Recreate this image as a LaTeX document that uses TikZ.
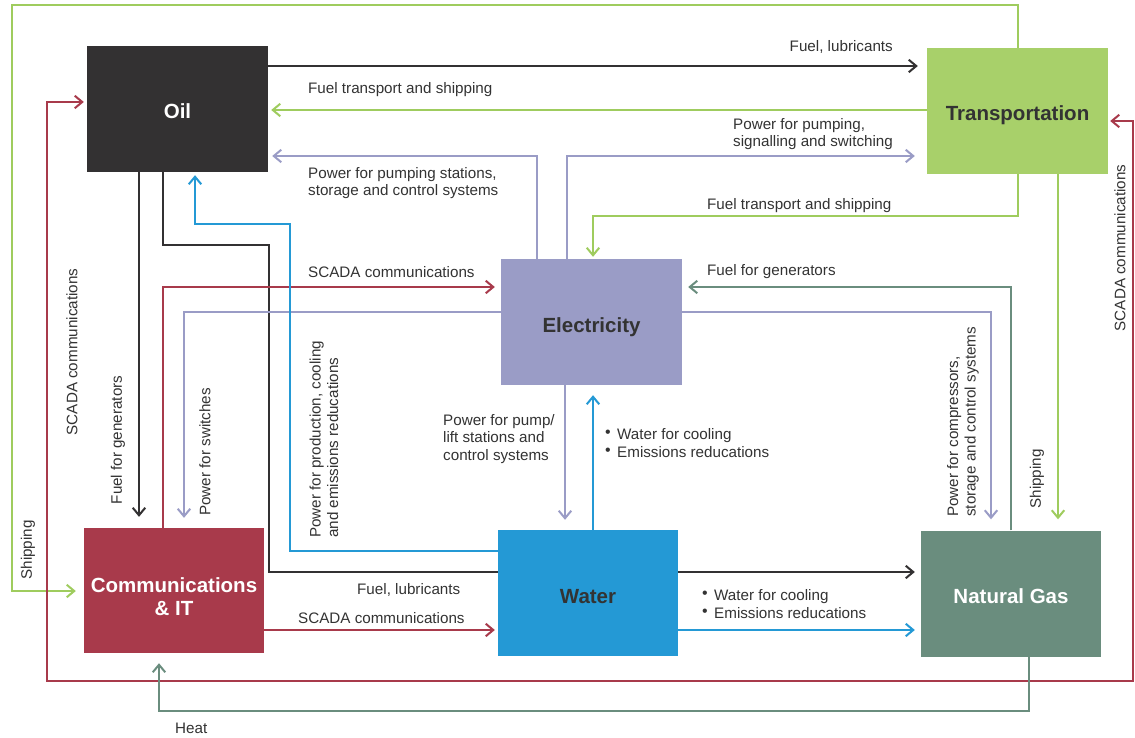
\documentclass[tikz,border=0pt]{standalone}
\usepackage{fontspec}
\usepackage{graphicx}
\setmainfont{Liberation Sans}
\usetikzlibrary{arrows.meta,backgrounds,calc}
\definecolor{cdark}{HTML}{333132}
\definecolor{cgreen}{HTML}{A8D06A}
\definecolor{lgreen}{HTML}{9FCC5E}
\definecolor{clav}{HTML}{9A9CC6}
\definecolor{cred}{HTML}{A83A4B}
\definecolor{cblue}{HTML}{2499D5}
\definecolor{cng}{HTML}{6A8D7E}
\definecolor{ctext}{HTML}{333333}
\newcommand{\bul}{\makebox[12pt][l]{\raisebox{2pt}{\scalebox{1.05}{•}}}}
\tikzset{barb/.tip={Straight Barb[length=7.5pt,width=12.5pt]}}
\begin{document}
\begin{tikzpicture}[x=1pt,y=-1pt,
  box/.style={draw=none,minimum width=181pt,minimum height=126pt,inner sep=0pt,
    font=\fontsize{20.5}{22}\selectfont\bfseries,align=center,text height=20pt,text depth=0pt},
  btxt/.style={inner sep=0pt,font=\fontsize{20.5}{22}\selectfont\bfseries,align=center},
  conn/.style={line width=2pt,-{barb},shorten >=6pt},
  blk/.style={conn,draw=cdark},
  grn/.style={conn,draw=lgreen},
  lav/.style={conn,draw=clav},
  rd/.style={conn,draw=cred},
  blu/.style={conn,draw=cblue},
  ngl/.style={conn,draw=cng},
  lbl/.style={font=\fontsize{15.2}{17.5}\selectfont,text=ctext,inner sep=0pt,align=left},
]
\useasboundingbox (0,0) rectangle (1135,738);

% boxes
\node[box,fill=cdark,text=white] (oil) at (177.5,109) {Oil};
\node[box,fill=cgreen,text=ctext] (tr) at (1017.5,111) {Transportation};
\node[box,fill=clav,text=ctext] (el) at (591.5,322) {Electricity};
\node[box,fill=cred,minimum width=180pt,minimum height=125pt] (comm) at (174,590.5) {};
\node[btxt,text=white] (commt) at (174,597) {Communications\\[1pt]\& IT};
\node[box,fill=cblue,text=ctext,minimum width=180pt] (water) at (588,593) {Water};
\node[box,fill=cng,text=white,minimum width=180pt] (ng) at (1011,593.5) {Natural Gas};

\begin{scope}[on background layer]
\fill[white] (0,0) rectangle (1135,738);
\draw[blk] (163,0 |- oil.south) |- (269,245) |- (ng.west |- 0,572);
\end{scope}

% connectors
\draw[blk,shorten >=9pt] (oil.east |- 0,66) -- (tr.west |- 0,66);
\draw[grn,shorten >=3pt] (tr.west |- 0,110) -- (oil.east |- 0,110);
\draw[lav,shorten >=4pt] (537,0 |- el.north) |- (oil.east |- 0,156);
\draw[lav,shorten >=12pt] (567,0 |- el.north) |- (tr.west |- 0,156);
\draw[grn,shorten >=2pt] (1018,0 |- tr.south) |- (593,216) -- (593,0 |- el.north);
\draw[grn,shorten >=8pt] (1018,0 |- tr.north) -- (1018,5) -| (12,591) -- (comm.west |- 0,591);
\draw[grn,shorten >=11pt] (1058,0 |- tr.south) -- (1058,0 |- ng.north);
\draw[line width=2pt,draw=cred,{barb}-{barb},shorten <=3pt,shorten >=2pt]
  (oil.west |- 0,102) -| (47,681) -| (1133,121) -- (tr.east |- 0,121);
\draw[rd] (163,0 |- comm.north) |- (el.west |- 0,287);
\draw[lav,shorten >=10pt] (el.west |- 0,312) -| (184,0 |- comm.north);
\draw[blk,shorten >=11pt] (139,0 |- oil.south) -- (139,0 |- comm.north);
\draw[blu,shorten >=3pt] (water.west |- 0,551) -| (290,224) -| (195,0 |- oil.south);
\draw[rd,shorten >=3pt] (comm.east |- 0,630) -- (water.west |- 0,630);
\draw[lav,shorten >=10pt] (565,0 |- el.south) -- (565,0 |- water.north);
\draw[blu,shorten >=10pt] (593,0 |- water.north) -- (593,0 |- el.south);
\draw[blu] (water.east |- 0,630) -- (ng.west |- 0,630);
\draw[ngl] (1011,0 |- ng.north) |- (el.east |- 0,287);
\draw[lav,shorten >=11pt] (el.east |- 0,312) -| (991,0 |- ng.north);
\draw[ngl,shorten >=10pt] (1029,0 |- ng.south) |- (159,711) -- (159,0 |- comm.south);

% labels
\node[lbl,anchor=east] (l1) at (893,47) {Fuel, lubricants};
\node[lbl,anchor=west] (l2) at (308,90) {Fuel transport and shipping};
\node[lbl,anchor=west] (l3) at (308,183) {Power for pumping stations,\\storage and control systems};
\node[lbl,anchor=west] (l4) at (733,134) {Power for pumping,\\signalling and switching};
\node[lbl,anchor=west] (l5) at (707,206) {Fuel transport and shipping};
\node[lbl,anchor=west] (l6) at (308,272) {SCADA communications};
\node[lbl,anchor=west] (l7) at (707,272) {Fuel for generators};
\node[lbl,anchor=west] (l8) at (443,439) {Power for pump/\\lift stations and\\control systems};
\node[lbl,anchor=west] (l9) at (605,443) {\bul Water for cooling\\\bul Emissions reducations};
\node[lbl,anchor=west] (l10) at (357,590) {Fuel, lubricants};
\node[lbl,anchor=west] (l11) at (298,618) {SCADA communications};
\node[lbl,anchor=west] (l12) at (702,604) {\bul Water for cooling\\\bul Emissions reducations};
\node[lbl,anchor=west] (l13) at (175,728) {Heat};
\node[lbl,rotate=90] (r1) at (72,352) {SCADA communications};
\node[lbl,rotate=90] (r2) at (1120,248) {SCADA communications};
\node[lbl,rotate=90] (r3) at (118,440) {Fuel for generators};
\node[lbl,rotate=90] (r4) at (205,452) {Power for switches};
\node[lbl,rotate=90,anchor=west] (r5) at (324,538) {Power for production, cooling\\and emissions reducations};
\node[lbl,rotate=90,anchor=west] (r6) at (963,517) {Power for compressors,\\storage and control systems};
\node[lbl,rotate=90] (r7) at (1037,479) {Shipping};
\node[lbl,rotate=90] (r8) at (28,550) {Shipping};
\end{tikzpicture}
\end{document}
